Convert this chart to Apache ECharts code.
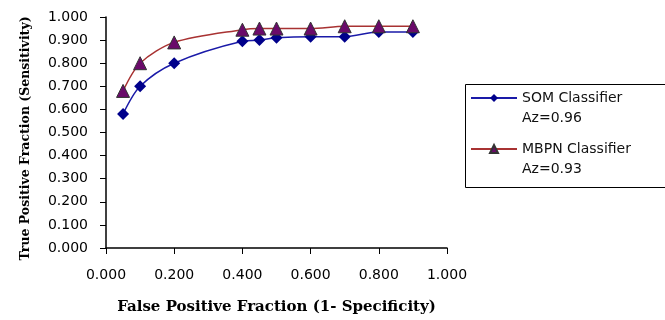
<!DOCTYPE html>
<html>
<head>
<meta charset="utf-8">
<script src="https://cdn.jsdelivr.net/npm/echarts@6/dist/echarts.min.js"></script>
<style>
  html, body { margin: 0; padding: 0; background: #fff; }
  #roc-chart { width: 665px; height: 320px; }
</style>
</head>
<body>
<div id="roc-chart"></div>
<script>
// false positive fraction (x) for both classifiers
var fpr = [0.05, 0.1, 0.2, 0.4, 0.45, 0.5, 0.6, 0.7, 0.8, 0.9];
// true positive fraction (y)
var somTpr = [0.58, 0.70, 0.80, 0.895, 0.90, 0.91, 0.915, 0.915, 0.935, 0.935];
var mbpnTpr = [0.68, 0.80, 0.89, 0.945, 0.95, 0.95, 0.95, 0.96, 0.96, 0.96];
var seriesNames = ['SOM Classifier', 'MBPN Classifier'];
var azValues = ['Az=0.96', 'Az=0.93'];

function pairs(xs, ys) {
  return xs.map(function (x, i) { return [x, ys[i]]; });
}

var tickFont = 'DejaVu Sans';
var titleFont = 'DejaVu Serif';

// one legend block per series so each sits exactly where it should
function legendFor(name, top) {
  return {
    orient: 'vertical',
    left: 470,
    top: top,
    padding: 0,
    itemWidth: 46,
    itemHeight: 10,
    data: [name],
    formatter: function (n) {
      return '{n|' + n + '}\n{z|' + azValues[seriesNames.indexOf(n)] + '}';
    },
    textStyle: {
      fontFamily: tickFont,
      fontSize: 14,
      color: '#111',
      rich: {
        // first line sits level with the legend icon
        n: { fontFamily: tickFont, fontSize: 14, color: '#111', lineHeight: 40, padding: [20, 0, 0, 0] },
        z: { fontFamily: tickFont, fontSize: 14, color: '#111', lineHeight: 20 }
      }
    }
  };
}

var myChart = echarts.init(document.getElementById('roc-chart'));
var option = {
  animation: false,
  grid: { left: 106, right: 218, top: 17, bottom: 70 },
  // legend frame
  graphic: [{
    type: 'rect',
    left: 463,
    top: 82,
    shape: { width: 230, height: 103 },
    style: { fill: 'none', stroke: '#000', lineWidth: 1 },
    silent: true
  }],
  legend: [legendFor(seriesNames[0], 71), legendFor(seriesNames[1], 122)],
  xAxis: {
    type: 'value',
    min: 0,
    max: 1,
    interval: 0.2,
    name: 'False Positive Fraction (1- Specificity)',
    nameLocation: 'middle',
    nameGap: 52,
    nameTextStyle: { fontFamily: titleFont, fontWeight: 'bold', fontSize: 15, color: '#000' },
    splitLine: { show: false },
    axisLine: { lineStyle: { color: '#000', width: 1.5 } },
    axisTick: { length: 6, lineStyle: { color: '#000' } },
    axisLabel: {
      margin: 20,
      fontFamily: tickFont,
      fontSize: 14,
      color: '#000',
      formatter: function (v) { return v.toFixed(3); }
    }
  },
  yAxis: {
    type: 'value',
    min: 0,
    max: 1,
    interval: 0.1,
    name: 'True Positive Fraction (Sensitivity)',
    nameLocation: 'middle',
    nameGap: 74,
    nameTextStyle: { fontFamily: titleFont, fontWeight: 'bold', fontSize: 12.5, color: '#000', padding: [0, 12, 0, 0] },
    splitLine: { show: false },
    axisLine: { show: true, lineStyle: { color: '#000', width: 1.5 } },
    axisTick: { show: true, length: 6, lineStyle: { color: '#000' } },
    axisLabel: {
      margin: 18,
      fontFamily: tickFont,
      fontSize: 14,
      color: '#000',
      formatter: function (v) { return v.toFixed(3); }
    }
  },
  series: [
    {
      name: seriesNames[0],
      type: 'line',
      smooth: 0.3,
      data: pairs(fpr, somTpr),
      symbol: 'diamond',
      symbolSize: 12,
      itemStyle: { color: '#00008b' },
      lineStyle: { color: '#1a1aa8', width: 1.5 }
    },
    {
      name: seriesNames[1],
      type: 'line',
      smooth: 0.3,
      data: pairs(fpr, mbpnTpr),
      symbol: 'triangle',
      symbolSize: 13,
      itemStyle: { color: '#6a0a6a', borderColor: '#333', borderWidth: 1 },
      lineStyle: { color: '#a83232', width: 1.5 }
    }
  ]
};
myChart.setOption(option);
</script>
</body>
</html>
